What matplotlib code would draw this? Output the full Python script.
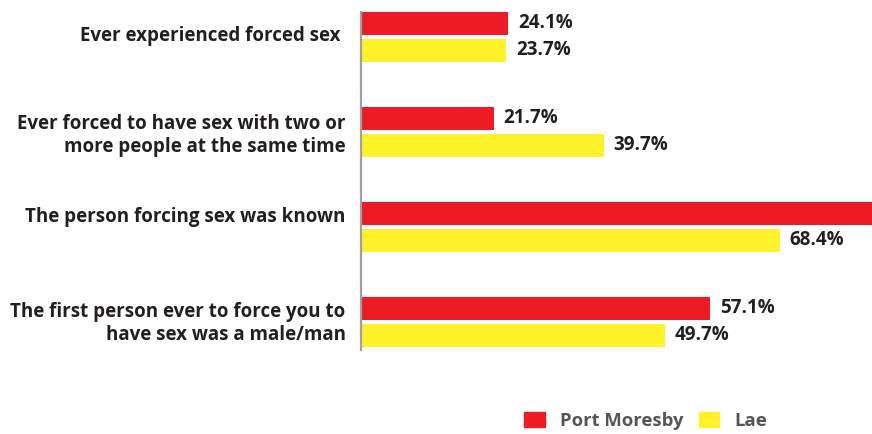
import numpy as np
import matplotlib.pyplot as plt
from matplotlib.patches import Patch

plt.rcParams['font.family'] = ['Open Sans', 'DejaVu Sans']
plt.rcParams['font.weight'] = 'bold'

categories = [
    'Ever experienced forced sex ',
    'Ever forced to have sex with two or\nmore people at the same time',
    'The person forcing sex was known',
    'The first person ever to force you to\nhave sex was a male/man',
]
port_moresby = [24.1, 21.7, 86.3, 57.1]  # third bar runs off the picture, value estimated
lae = [23.7, 39.7, 68.4, 49.7]
series_names = ['Port Moresby', 'Lae']

RED = '#ED1C24'
YELLOW = '#FFF22A'
TEXT = '#231F20'

fig = plt.figure(figsize=(8.72, 4.34), dpi=100)
W, H = 872, 434
ax = fig.add_axes([361 / W, 1 - 350 / H, 1 - 361 / W, 338 / H])

XMAX = 83.5
y = np.arange(len(categories))
off = 0.142
h = 0.242
ax.barh(y - off, port_moresby, height=h, color=RED)
ax.barh(y + off, lae, height=h, color=YELLOW)

# value labels (the one past the right edge is not visible in the original)
for yy, vals in ((y - off, port_moresby), (y + off, lae)):
    for yi, v in zip(yy, vals):
        if v + 12 > XMAX:
            continue
        ax.text(v + 1.6, yi, f'{v:.1f}%', va='center', ha='left',
                fontsize=13.5, fontweight='bold', color=TEXT)

ax.set_xlim(0, XMAX)
ax.set_ylim(3.295, -0.263)

# category labels sit a little above the group centre in the original
ax.set_yticks(y + np.array([-0.04, -0.01, -0.13, -0.03]))
ax.set_yticklabels(categories, fontsize=13.5, fontweight='bold', color=TEXT,
                   linespacing=1.2)
ax.tick_params(axis='y', length=0, pad=11)
ax.set_xticks([])

for s in ['top', 'right', 'bottom']:
    ax.spines[s].set_visible(False)
ax.spines['left'].set_color('#A0A0A0')
ax.spines['left'].set_linewidth(1.6)

handles = [Patch(color=RED, label=series_names[0]),
           Patch(color=YELLOW, label=series_names[1])]
leg = fig.legend(handles=handles, ncol=2, loc='center',
                 bbox_to_anchor=(646 / W, 1 - 421 / H), frameon=False,
                 fontsize=13.3, handlelength=1.1, handleheight=0.85,
                 handletextpad=0.85, columnspacing=0.8)
for t in leg.get_texts():
    t.set_color('#555555')
    t.set_fontweight('bold')

fig.savefig('out.png', dpi=100)
